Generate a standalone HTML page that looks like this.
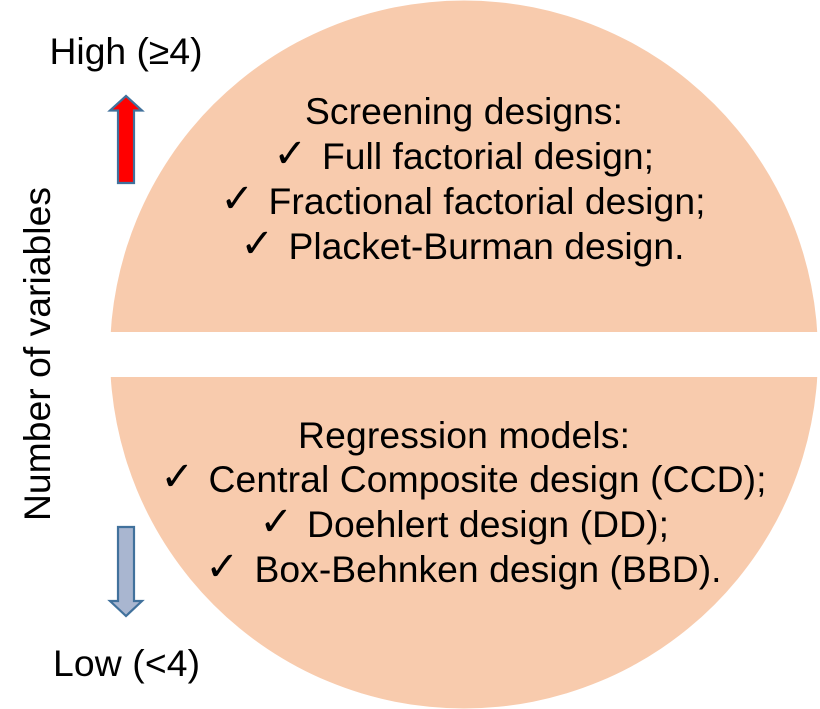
<!DOCTYPE html>
<html><head><meta charset="utf-8"><style>
html,body{margin:0;padding:0;background:#fff}
svg{display:block}
text{font-family:"Liberation Sans",Arial,sans-serif;font-size:37.3px;fill:#000}
.c{font-family:"DejaVu Sans",sans-serif;font-size:40px}
</style></head><body>
<svg width="820" height="709" viewBox="0 0 820 709" xmlns="http://www.w3.org/2000/svg">
<circle cx="464" cy="354.5" r="354" fill="#F8CBAD"/>
<rect x="100" y="332" width="730" height="45" fill="#fff"/>
<path d="M126 96 L142 110.500 H134 V183 H118 V110.500 H110 Z" fill="#FF0000" stroke="#41719C" stroke-width="2.2"/>
<path d="M118 527 H134 V601 H142 L126 616 L110 601 H118 Z" fill="#A9B6D0" stroke="#41719C" stroke-width="2.2"/>
<text x="49.500" y="64" textLength="153">High (≥4)</text>
<text x="53" y="676" textLength="147">Low (&lt;4)</text>
<text transform="translate(50 521) rotate(-90)" textLength="334">Number of variables</text>
<text x="305" y="124" textLength="318">Screening designs:</text>
<text class="c" x="273.500" y="167">✓</text>
<text x="322" y="169" textLength="332">Full factorial design;</text>
<text class="c" x="220.500" y="212">✓</text>
<text x="268.500" y="214" textLength="437">Fractional factorial design;</text>
<text class="c" x="240.500" y="257">✓</text>
<text x="288.500" y="259" textLength="396">Placket-Burman design.</text>
<text x="298" y="448" textLength="332">Regression models:</text>
<text class="c" x="160.500" y="490">✓</text>
<text x="208.500" y="492" textLength="558">Central Composite design (CCD);</text>
<text class="c" x="259.500" y="535">✓</text>
<text x="307" y="537" textLength="362">Doehlert design (DD);</text>
<text class="c" x="205.500" y="580">✓</text>
<text x="254.500" y="582" textLength="467">Box-Behnken design (BBD).</text>
</svg>
</body></html>
